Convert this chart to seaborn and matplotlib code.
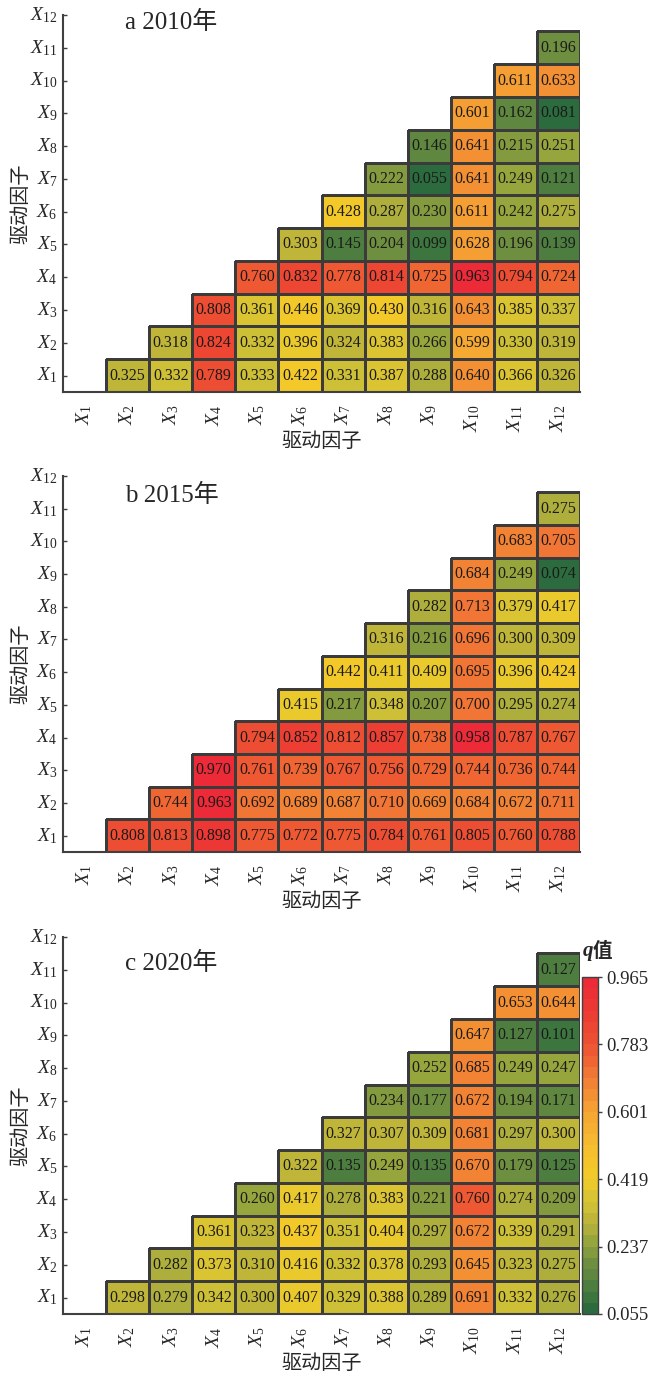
import numpy as np
import pandas as pd
import seaborn as sns
import matplotlib.pyplot as plt
from matplotlib.colors import LinearSegmentedColormap

sns.set_style('white')
plt.rcParams['font.family'] = ['Liberation Serif', 'Noto Sans CJK SC']
plt.rcParams['mathtext.fontset'] = 'custom'
plt.rcParams['mathtext.it'] = 'Liberation Serif:italic'
plt.rcParams['mathtext.rm'] = 'Liberation Serif'

# Driving factors X1..X12
factors = [f'X{i}' for i in range(1, 13)]
tick_labels = [f'$X_{{{i}}}$' for i in range(1, 13)]

# Interaction q values: row Xi lists the values for columns X(i+1)..X12
q_2010 = [
    [0.325, 0.332, 0.789, 0.333, 0.422, 0.331, 0.387, 0.288, 0.640, 0.366, 0.326],
    [0.318, 0.824, 0.332, 0.396, 0.324, 0.383, 0.266, 0.599, 0.330, 0.319],
    [0.808, 0.361, 0.446, 0.369, 0.430, 0.316, 0.643, 0.385, 0.337],
    [0.760, 0.832, 0.778, 0.814, 0.725, 0.963, 0.794, 0.724],
    [0.303, 0.145, 0.204, 0.099, 0.628, 0.196, 0.139],
    [0.428, 0.287, 0.230, 0.611, 0.242, 0.275],
    [0.222, 0.055, 0.641, 0.249, 0.121],
    [0.146, 0.641, 0.215, 0.251],
    [0.601, 0.162, 0.081],
    [0.611, 0.633],
    [0.196],
]
q_2015 = [
    [0.808, 0.813, 0.898, 0.775, 0.772, 0.775, 0.784, 0.761, 0.805, 0.760, 0.788],
    [0.744, 0.963, 0.692, 0.689, 0.687, 0.710, 0.669, 0.684, 0.672, 0.711],
    [0.970, 0.761, 0.739, 0.767, 0.756, 0.729, 0.744, 0.736, 0.744],
    [0.794, 0.852, 0.812, 0.857, 0.738, 0.958, 0.787, 0.767],
    [0.415, 0.217, 0.348, 0.207, 0.700, 0.295, 0.274],
    [0.442, 0.411, 0.409, 0.695, 0.396, 0.424],
    [0.316, 0.216, 0.696, 0.300, 0.309],
    [0.282, 0.713, 0.379, 0.417],
    [0.684, 0.249, 0.074],
    [0.683, 0.705],
    [0.275],
]
q_2020 = [
    [0.298, 0.279, 0.342, 0.300, 0.407, 0.329, 0.388, 0.289, 0.691, 0.332, 0.276],
    [0.282, 0.373, 0.310, 0.416, 0.332, 0.378, 0.293, 0.645, 0.323, 0.275],
    [0.361, 0.323, 0.437, 0.351, 0.404, 0.297, 0.672, 0.339, 0.291],
    [0.260, 0.417, 0.278, 0.383, 0.221, 0.760, 0.274, 0.209],
    [0.322, 0.135, 0.249, 0.135, 0.670, 0.179, 0.125],
    [0.327, 0.307, 0.309, 0.681, 0.297, 0.300],
    [0.234, 0.177, 0.672, 0.194, 0.171],
    [0.252, 0.685, 0.249, 0.247],
    [0.647, 0.127, 0.101],
    [0.653, 0.644],
    [0.127],
]
panel_titles = ['a 2010年', 'b 2015年', 'c 2020年']
cbar_ticks = [0.055, 0.237, 0.419, 0.601, 0.783, 0.965]
vmin, vmax = 0.055, 0.965

# stepped green -> yellow -> red colour scale
anchors = [(0.055, '#2b6b3e'), (0.12, '#4f7f3f'), (0.18, '#6f8f40'),
           (0.237, '#93a33d'), (0.29, '#b8b23a'), (0.35, '#d3c235'),
           (0.419, '#f2cb28'), (0.50, '#f5be2e'), (0.601, '#f5a634'),
           (0.68, '#f38434'), (0.783, '#ee5533'), (0.87, '#ec3e33'),
           (0.965, '#ec2a38')]
cmap = LinearSegmentedColormap.from_list(
    'q', [((v - vmin) / (vmax - vmin), c) for v, c in anchors], N=30)


def to_frame(rows):
    m = np.full((12, 12), np.nan)
    for i, vals in enumerate(rows):
        m[i, i + 1:] = vals
    # top row of the heatmap is X12
    return pd.DataFrame(m[::-1], index=factors[::-1], columns=factors)


W, H = 655, 1375
fig = plt.figure(figsize=(W / 100, H / 100), dpi=100)

left, right = 63, 580
tops = [15, 476, 937]
bottoms = [392, 852, 1314]
title_y = [22, 495, 963]

for k, data in enumerate([q_2010, q_2015, q_2020]):
    top, bot = tops[k], bottoms[k]
    ax = fig.add_axes([left / W, 1 - bot / H, (right - left) / W, (bot - top) / H])
    last = k == 2
    cax = fig.add_axes([582 / W, 1 - 1314 / H, 16 / W, (1314 - 977) / H]) if last else None
    df = to_frame(data)
    sns.heatmap(df, ax=ax, cmap=cmap, vmin=vmin, vmax=vmax,
                annot=True, fmt='.3f',
                annot_kws={'size': 11.5, 'color': '#1a1a1a'},
                linewidths=0.8, linecolor='#3a3a3a',
                cbar=last, cbar_ax=cax,
                cbar_kws={'ticks': cbar_ticks} if last else None)
    # no borders on the empty half of the matrix
    mesh = ax.collections[0]
    valid = ~np.isnan(df.values.ravel())
    mesh.set_edgecolor([(0.23, 0.23, 0.23, 1) if v else (0, 0, 0, 0) for v in valid])

    ax.set_ylim(12, 0.5)
    ax.set_xticklabels(tick_labels, rotation=90, fontsize=14)
    ax.set_yticklabels(tick_labels[::-1], rotation=0, fontsize=14)
    ax.tick_params(axis='y', direction='in', length=3, width=1,
                   color='#404040', left=True, pad=4)
    ax.tick_params(axis='x', length=0, pad=9)
    for s in ['left', 'bottom']:
        ax.spines[s].set_visible(True)
        ax.spines[s].set_color('#404040')
        ax.spines[s].set_linewidth(1.5)

    ax.set_xlabel('驱动因子', fontsize=14.5)
    ax.xaxis.set_label_coords(0.5, -0.11)
    ax.set_ylabel('驱动因子', fontsize=14.5)
    ax.yaxis.set_label_coords(-0.062, 0.5)

    fig.text(125 / W, 1 - title_y[k] / H, panel_titles[k], ha='left',
             va='center', fontsize=18)

    if last:
        cbar = ax.collections[0].colorbar
        cbar.set_ticklabels([f'{t:.3f}' for t in cbar_ticks])
        cbar.ax.tick_params(labelsize=13.5, direction='out', length=3,
                            width=1, color='#404040', pad=3)
        cbar.outline.set_edgecolor('#404040')
        cbar.outline.set_linewidth(1.0)
        fig.text(583 / W, 1 - 951 / H, 'q', ha='left', va='center',
                 fontsize=15, fontweight='bold', fontstyle='italic',
                 family='Liberation Serif')
        fig.text(593 / W, 1 - 951 / H, '值', ha='left', va='center',
                 fontsize=14, fontweight='bold', family='Noto Sans CJK SC')

fig.savefig('out.png', dpi=100)
